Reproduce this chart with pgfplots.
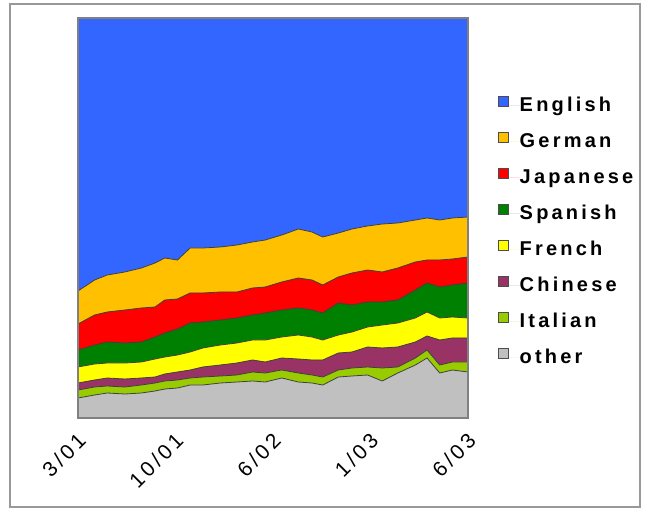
\documentclass[border=0pt]{standalone}
\usepackage{fontspec}
\usepackage{pgfplots}
\usepackage{pgfplotstable}
\pgfplotsset{compat=1.18}
\setmainfont{Liberation Sans}
\newfontfamily\legfont[LetterSpace=16,BoldFont={Liberation Sans Bold}]{Liberation Sans}
\newfontfamily\tickfont[LetterSpace=16]{Liberation Sans}
\definecolor{cEng}{HTML}{3366FF}
\definecolor{cGer}{HTML}{FFC000}
\definecolor{cJap}{HTML}{FF0000}
\definecolor{cSpa}{HTML}{008000}
\definecolor{cFre}{HTML}{FFFF00}
\definecolor{cChi}{HTML}{993366}
\definecolor{cIta}{HTML}{99CC00}
\definecolor{cOth}{HTML}{C0C0C0}
% cumulative shares (percent), top edge of each layer
\pgfplotstableread{
x    eng ger   jap   spa   fre   chi   ita   oth
0    100 31.75 23.5  17    12.75 8.75  7     5
1.7  100 34.5  25.75 18.25 13.5  9.5   7.75  5.75
3    100 35.75 26.5  19    13.75 10    8     6.25
4.8  100 36.5  27    18.75 13.75 9.75  7.75  6
6.5  100 37.5  27.5  19    14    10    8.25  6.25
7.9  100 38.75 27.75 20.25 14.75 10.25 8.75  6.75
8.9  100 40    29.5  21.25 15.25 11    9.25  7.25
10.2 100 39.5  29.75 22.25 15.75 11.5  9.5   7.5
11.5 100 42.5  31.25 23.75 16.5  12    10    8.25
12.8 100 42.5  31.25 24    17.5  12.75 10.25 8.25
14.6 100 42.75 31.5  24.5  18.25 13.25 10.5  8.75
16.3 100 43.25 31.5  25    18.75 13.75 10.75 9
17.9 100 44    32.5  25.75 19.5  14.5  11.5  9.25
19.2 100 44.5  32.75 26.25 19.5  14    11.25 9
20.9 100 45.75 34    27    20.25 15    12    10
22.6 100 47.25 35    27.5  20.75 14.75 11.25 9
24   100 46.5  34.5  27    20.25 14.5  10.75 8.75
25.1 100 45.25 33.25 26.25 19.5  14.5  10.25 8.25
26.7 100 46.25 35.25 28.75 20.75 16.25 12    10.25
28.1 100 47.25 36.25 28.25 21.5  16.5  12.5  10.5
29.7 100 48    37    29    22.75 17.75 12.75 10.75
31.2 100 48.5  36.5  29    23.25 17.5  12.5  9.25
32.8 100 48.75 37.5  29.5  23.75 17.75 12.75 11.25
34.6 100 49.5  39    32    25    19    15    13.25
35.8 100 50    39.5  33.75 26.5  20.5  17    15
37.1 100 49.5  39.5  32.75 25    19.5  13.25 11.25
38.4 100 50    39.75 33.25 25.25 20    14    12
40   100 50.25 40.25 33.75 25    20    14    11.5
}\datatable
\begin{document}
\begin{tikzpicture}
\useasboundingbox (0,0) rectangle (645bp,510bp);
\fill[white] (0,0) rectangle (645bp,510bp);
\draw[color=black!40, line width=2bp] (10bp,3bp) rectangle (640bp,506bp);
\begin{axis}[
  at={(78bp,92bp)}, anchor=south west,
  scale only axis, width=390bp, height=400bp,
  xmin=0, xmax=40, ymin=0, ymax=100,
  axis on top,
  axis line style={color=black!50, line width=1.5bp},
  ytick=\empty,
  xtick={0,10,20,30,40},
  xticklabels={3/01,10/01,6/02,1/03,6/03},
  major tick length=0pt,
  xticklabel style={xshift=4bp, yshift=-19bp, rotate=45, anchor=east, inner sep=0pt, font=\tickfont\fontsize{21bp}{24bp}\selectfont},
  legend style={at={(1.077,0.805)}, anchor=north west, draw=none, fill=none,
    inner sep=0pt, row sep=17bp,
    nodes={inner sep=0pt, text height=15bp, text depth=4bp},
    font=\legfont\bfseries\fontsize{20bp}{24bp}\selectfont},
  legend cell align=left,
  legend image code/.code={\path[draw=none] (0bp,0bp) -- (21bp,0bp);
    \draw[#1, draw=black!70, line width=1bp] (0bp,-1bp) rectangle (10bp,9bp);},
  every axis plot/.append style={draw=black!75, line width=0.8bp},
]
\addplot[fill=cEng] table[x=x,y=eng]{\datatable} \closedcycle;
\addlegendentry{English}
\addplot[fill=cGer] table[x=x,y=ger]{\datatable} \closedcycle;
\addlegendentry{German}
\addplot[fill=cJap] table[x=x,y=jap]{\datatable} \closedcycle;
\addlegendentry{Japanese}
\addplot[fill=cSpa] table[x=x,y=spa]{\datatable} \closedcycle;
\addlegendentry{Spanish}
\addplot[fill=cFre] table[x=x,y=fre]{\datatable} \closedcycle;
\addlegendentry{French}
\addplot[fill=cChi] table[x=x,y=chi]{\datatable} \closedcycle;
\addlegendentry{Chinese}
\addplot[fill=cIta] table[x=x,y=ita]{\datatable} \closedcycle;
\addlegendentry{Italian}
\addplot[fill=cOth] table[x=x,y=oth]{\datatable} \closedcycle;
\addlegendentry{other}
\end{axis}
\end{tikzpicture}
\end{document}
